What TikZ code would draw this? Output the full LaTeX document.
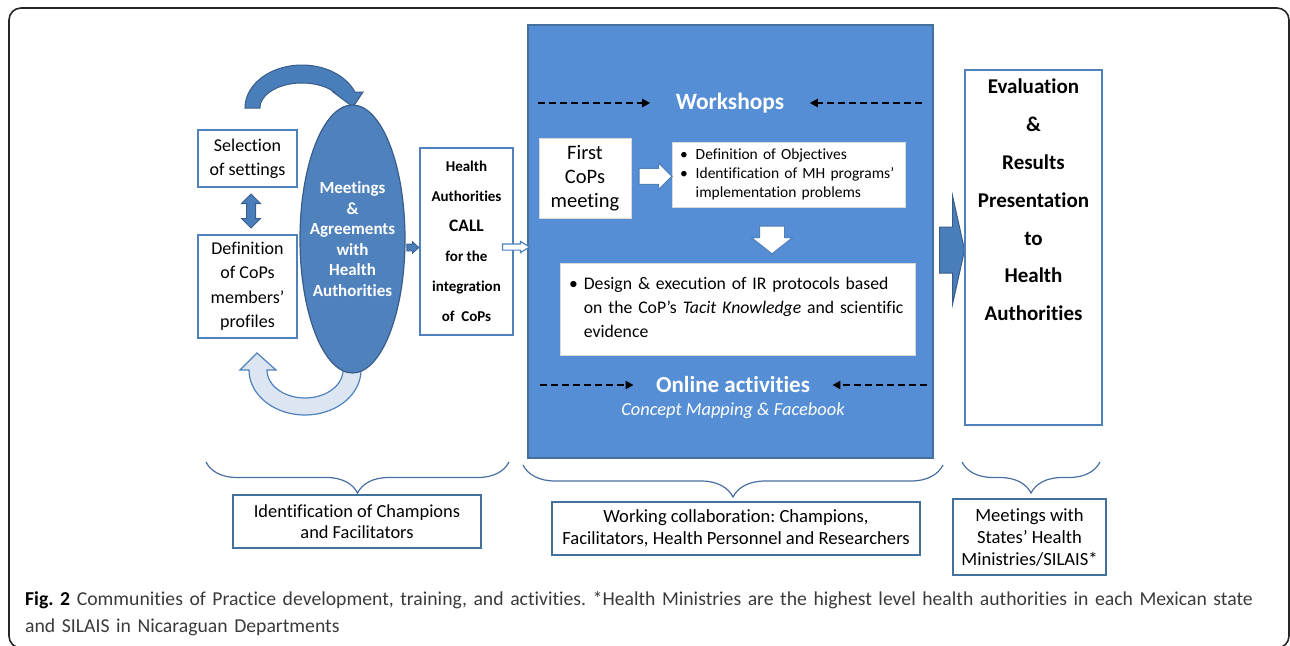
\documentclass[tikz,border=0pt]{standalone}
\usepackage{fontspec}
\setmainfont{Carlito}[Ligatures=NoCommon]
\usetikzlibrary{shapes.geometric,shapes.arrows,decorations.pathreplacing,arrows.meta,calc}
\definecolor{boxblue}{HTML}{4F81BD}
\definecolor{darkblue}{HTML}{385D8A}
\definecolor{arcblue}{HTML}{4A7EBB}
\definecolor{workblue}{HTML}{558ED5}
\definecolor{workedge}{HTML}{41719C}
\definecolor{lightblue}{HTML}{DCE6F2}
\definecolor{bracecol}{HTML}{4A6EA0}
\definecolor{captgray}{HTML}{3A3A3A}
\newcommand{\fsz}[2]{\fontsize{#1}{#2}\selectfont}
\frenchspacing

\begin{document}
\begin{tikzpicture}[x=1pt,y=-1pt,
	wbox/.style={draw=boxblue,line width=1.5,fill=white,inner sep=0,align=center},
	pbox/.style={draw=black!15,line width=.8,fill=white,inner ysep=0},
	lbox/.style={draw=workedge,line width=1.2,fill=white,inner sep=0,align=center},
	dasharr/.style={line width=2.5,dash pattern=on 7pt off 4pt,-{Triangle[length=8,width=8]}},
	brc/.style={decorate,decoration={brace,mirror,amplitude=31},draw=bracecol,line width=1.2},
	blk/.style={single arrow,inner xsep=0,line width=1.2}]
	\useasboundingbox (0,0) rectangle (1290,645);
	\draw[line width=1.6,black!85,rounded corners=12] (9,8) rectangle (1289,648);
	
	\filldraw[draw=darkblue,fill=arcblue,line width=1] plot[domain=180:338.2,samples=40] ({302+57*cos(\x)},{108+43*sin(\x)}) -- (363,92) -- (353,107) -- (333,92) -- plot[domain=320.2:180,samples=40] ({302+42*cos(\x)},{108+25*sin(\x)}) -- cycle;
	\filldraw[draw=boxblue,fill=lightblue,line width=1.2] plot[domain=-10:180,samples=40] ({305+56*cos(\x)},{370+45*sin(\x)}) -- (240,370) -- (257,353) -- (276,370) -- plot[domain=180:-10,samples=40] ({305+38*cos(\x)},{370+28*sin(\x)}) -- cycle;
	
	\node[ellipse,draw=darkblue,fill=boxblue,line width=1.2,minimum width=105,minimum height=268,inner sep=0] (meet) at (352.5,239) {};
	\node[text=white,align=center,font=\bfseries\fsz{17}{20.6}] (meettxt) at (meet) {Meetings\\\&\\Agreements\\with\\Health\\Authorities};
	
	\node[wbox,minimum width=99,minimum height=57,font=\fsz{18}{24}] (sel) at (247.5,158.5) {Selection\\of settings};
	\node[wbox,minimum width=99,minimum height=103,font=\fsz{18}{24.5}] (def) at (247.5,286.5) {Definition\\of CoPs\\members’\\profiles};
	\node[double arrow,shape border rotate=90,fill=arcblue,draw=darkblue,line width=1,inner xsep=4,inner ysep=0,minimum height=34,minimum width=18,double arrow head extend=5,double arrow tip angle=90] (dbl) at ($(sel.south)!0.5!(def.north)+(3.5,0)$) {};
	
	\node[wbox,minimum width=93,minimum height=187,font=\bfseries\fsz{15}{30}] (call) at (466.5,241.5) {Health\\Authorities\\{\fsz{17.5}{30}CALL}\\for the\\integration\\of~~CoPs};
	\node[blk,fill=arcblue,draw=darkblue,line width=.8,inner ysep=3,minimum height=12,minimum width=11,single arrow head extend=2.5,single arrow tip angle=85] (arr0) at (411,247.5) {};
	
	\node[draw=workedge,fill=workblue,line width=1.2,minimum width=405,minimum height=433,inner sep=0] (work) at (730.5,241.5) {};
	\node[blk,fill=white,draw=boxblue,line width=1.2,inner ysep=2.5,minimum height=27,minimum width=10,single arrow head extend=2.5,single arrow tip angle=64] (callarr) at (513.5,247) {};
	
	\node[text=white,font=\bfseries\fsz{23.4}{26}] (wshop) at (730,103) {Workshops};
	\coordinate (wsl) at (538,103);
	\coordinate (wsr) at (922,103);
	\draw[dasharr,shorten >=22] (wsl) -- (wshop.west);
	\draw[dasharr,shorten >=22] (wsr) -- (wshop.east);
	
	\node[pbox,inner xsep=0,minimum width=92,minimum height=80,align=center,font=\fsz{20.5}{24}] (first) at (585,178) {First\\CoPs\\meeting};
	\node[pbox,minimum width=233,minimum height=65,text width=217,inner xsep=8,align=left,font=\fsz{15.5}{19}] (obj) at (788.5,174.5) {\begin{tabular}{@{}l@{\hspace{8pt}}l@{}}\textbullet & Definition of Objectives\\\textbullet & Identification of MH programs’\\ & implementation problems\end{tabular}};
	\node[blk,fill=white,draw=boxblue,inner ysep=7.5,minimum height=33,minimum width=26,single arrow head extend=5.5,single arrow tip angle=90] (arr1) at ($(first.east)!0.5!(obj.west)$) {};
	
	\node[pbox,minimum width=355,minimum height=92,text width=337,inner xsep=9,align=left,font=\fsz{17.7}{24}] (design) at (737.5,309) {\begin{tabular}{@{}l@{\hspace{6pt}}l@{}}\textbullet & Design \& execution of IR protocols based\\ & on the CoP’s \textit{Tacit Knowledge} and scientific\\ & evidence\end{tabular}};
	\node[single arrow,fill=white,draw=boxblue,line width=1.2,shape border rotate=270,inner xsep=12,inner ysep=0,minimum height=28,minimum width=40,single arrow head extend=8,single arrow tip angle=103] (arr2) at ($(obj.south)!0.5!(design.north)+(9,0)$) {};
	
	\node[text=white,font=\bfseries\fsz{23}{26}] (online) at (733,385) {Online activities};
	\node[text=white,font=\itshape\fsz{18.4}{20}] (concept) at (733,411) {Concept Mapping \& Facebook};
	\coordinate (onl) at (540,385);
	\coordinate (onr) at (927,385);
	\draw[dasharr,shorten >=19] (onl) -- (online.west);
	\draw[dasharr,shorten >=19] (onr) -- (online.east);
	
	\node[blk,fill=arcblue,draw=darkblue,line width=1,inner ysep=22.5,minimum height=25,minimum width=106,single arrow head extend=30.5,single arrow tip angle=155] (bigarr) at (949.5,250) {};
	\node[wbox,minimum width=137,minimum height=355] (eval) at (1033.5,247.5) {};
	\node[align=center,font=\bfseries\fsz{21}{37.8}] (evaltxt) at (1033.5,200) {Evaluation\\\&\\Results\\Presentation\\to\\Health\\Authorities};
	
	\coordinate (b1l) at (206,462);
	\coordinate (b1r) at (509,462);
	\coordinate (b2l) at (523,465);
	\coordinate (b2r) at (943,465);
	\coordinate (b3l) at (962,462);
	\coordinate (b3r) at (1100,462);
	\draw[brc] (b1l) -- (b1r);
	\draw[brc,decoration={amplitude=32}] (b2l) -- (b2r);
	\draw[brc] (b3l) -- (b3r);
	\node[lbox,minimum width=248,minimum height=53,font=\fsz{18.4}{21.5}] (ident) at (357,521.5) {Identification of Champions\\and Facilitators};
	\node[lbox,minimum width=368,minimum height=53,font=\fsz{18.6}{22}] (collab) at (736,528.5) {Working collaboration: Champions,\\Facilitators, Health Personnel and Researchers};
	\node[lbox,minimum width=153,minimum height=76,font=\fsz{18.6}{22}] (minist) at (1029.5,537) {Meetings with\\States’ Health\\Ministries/SILAIS*};
	
	\node[anchor=north west,text width=1262,align=left,inner sep=0,text=captgray,font=\fsz{19.7}{27}] (capt) at (25,591) {\textbf{\color{black}Fig.~2} Communities of Practice development, training, and activities. *Health Ministries are the highest level health authorities in each Mexican state\\and SILAIS in Nicaraguan Departments};
\end{tikzpicture}
\end{document}
